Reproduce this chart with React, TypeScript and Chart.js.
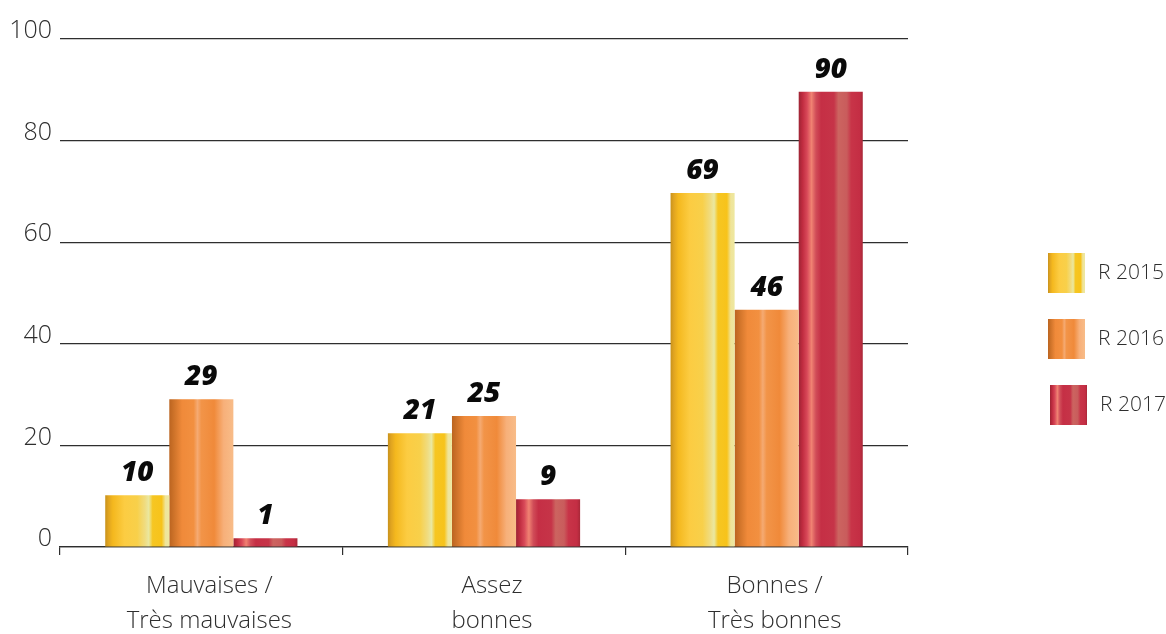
import React, { useEffect, useRef } from "react";
import { Chart, registerables } from "chart.js";

Chart.register(...registerables);

const categories = [["Mauvaises /", "Très mauvaises"], ["Assez", "bonnes"], ["Bonnes /", "Très bonnes"]];
const seriesNames = ["R 2015", "R 2016", "R 2017"];
const values2015 = [10.2, 22.4, 69.7];
const values2016 = [29.1, 25.8, 46.7];
const values2017 = [1.7, 9.4, 89.6];
const printed2015 = ["10", "21", "69"];
const printed2016 = ["29", "25", "46"];
const printed2017 = ["1", "9", "90"];
const yTicks = [0, 20, 40, 60, 80, 100];

type Stop = [number, string];
const yellowStops: Stop[] = [
  [0, "#c8921c"], [0.05, "#e0a420"], [0.12, "#f4b81e"], [0.3, "#fccc42"], [0.5, "#f8d04a"],
  [0.62, "#f0dc80"], [0.68, "#eae8a0"], [0.74, "#f6c622"], [0.88, "#f7c31a"], [0.94, "#efe49a"], [1, "#eee8a0"],
];
const orangeStops: Stop[] = [
  [0, "#bb6420"], [0.08, "#d0742a"], [0.2, "#f08a3a"], [0.38, "#f29040"], [0.44, "#f5aa72"],
  [0.5, "#f29448"], [0.7, "#f08a3a"], [0.85, "#f7b07a"], [1, "#f8bc88"],
];
const redStops: Stop[] = [
  [0, "#9e2434"], [0.06, "#c02c40"], [0.13, "#d84858"], [0.2, "#f08272"], [0.27, "#d04c58"],
  [0.35, "#c52f45"], [0.55, "#c63448"], [0.62, "#cc6460"], [0.75, "#c95c5c"], [0.82, "#c83448"],
  [0.95, "#c42e44"], [1, "#a82838"],
];
const stopsList = [yellowStops, orangeStops, redStops];
const printedList = [printed2015, printed2016, printed2017];

const TEXT = "#2e2e2e";
const LIGHT_FONT = "'Open Sans', 'Lato', sans-serif";

function makeGradient(ctx: CanvasRenderingContext2D, x0: number, x1: number, stops: Stop[]) {
  const g = ctx.createLinearGradient(x0, 0, x1, 0);
  stops.forEach(([o, c]) => g.addColorStop(o, c));
  return g;
}

const gradientPlugin = {
  id: "barGradients",
  beforeDatasetsDraw(chart: any) {
    const ctx = chart.ctx;
    chart.data.datasets.forEach((_: any, di: number) => {
      const meta = chart.getDatasetMeta(di);
      meta.data.forEach((el: any) => {
        const { x, width } = el.getProps(["x", "width"], true);
        const g = makeGradient(ctx, x - width / 2, x + width / 2, stopsList[di]);
        el.options = Object.assign({}, el.options, { backgroundColor: g });
      });
    });
  },
};

const valueLabelPlugin = {
  id: "valueLabels",
  afterDatasetsDraw(chart: any) {
    const ctx = chart.ctx;
    ctx.save();
    ctx.fillStyle = "#0a0a0a";
    ctx.font = "italic 800 28px 'Open Sans', 'Noto Sans', sans-serif";
    ctx.textAlign = "center";
    ctx.textBaseline = "middle";
    chart.data.datasets.forEach((_: any, di: number) => {
      const meta = chart.getDatasetMeta(di);
      meta.data.forEach((el: any, i: number) => {
        const { x, y } = el.getProps(["x", "y"], true);
        ctx.fillText(printedList[di][i], x, y - 22);
      });
    });
    ctx.restore();
  },
};

const legendPlugin = {
  id: "customLegend",
  afterDraw(chart: any) {
    const ctx = chart.ctx;
    const area = chart.chartArea;
    const mid = (area.top + area.bottom) / 2;
    ctx.save();
    seriesNames.forEach((name, i) => {
      const cy = mid - 20 + i * 66;
      const bx = area.right + 140 + (i === 2 ? 2 : 0);
      const bw = 37;
      const bh = 40;
      ctx.fillStyle = makeGradient(ctx, bx, bx + bw, stopsList[i]);
      ctx.fillRect(bx, cy - bh / 2, bw, bh);
      ctx.fillStyle = TEXT;
      ctx.font = `300 21px ${LIGHT_FONT}`;
      ctx.textAlign = "left";
      ctx.textBaseline = "middle";
      ctx.fillText(name, bx + bw + 13, cy);
    });
    ctx.restore();
  },
};

export default function App() {
  const canvasRef = useRef<HTMLCanvasElement | null>(null);

  useEffect(() => {
    document.body.style.margin = "0";
    const canvas = canvasRef.current;
    if (!canvas) return;
    const chart = new Chart(canvas, {
      type: "bar",
      data: {
        labels: categories,
        datasets: [
          { label: seriesNames[0], data: values2015, backgroundColor: "#f7c31a" },
          { label: seriesNames[1], data: values2016, backgroundColor: "#f08a3a" },
          { label: seriesNames[2], data: values2017, backgroundColor: "#c52f45" },
        ],
      },
      options: {
        animation: false,
        responsive: false,
        maintainAspectRatio: false,
        layout: { padding: { top: 39, right: 258, left: 0, bottom: 0 } },
        datasets: { bar: { categoryPercentage: 0.68, barPercentage: 1, borderWidth: 0 } },
        plugins: {
          legend: { display: false },
          tooltip: { enabled: false },
        },
        scales: {
          x: {
            grid: {
              display: true,
              offset: true,
              drawOnChartArea: false,
              drawTicks: true,
              tickLength: 8,
              color: TEXT,
              lineWidth: 1.2,
            },
            border: { display: true, color: TEXT, width: 1.2 },
            ticks: {
              color: TEXT,
              font: { family: LIGHT_FONT, size: 24, weight: "300", lineHeight: 1.45 },
              padding: 14,
              labelOffset: 8,
              maxRotation: 0,
              autoSkip: false,
            },
            afterFit: (scale: any) => {
              scale.height = 87;
            },
          },
          y: {
            min: 0,
            max: 100,
            afterBuildTicks: (scale: any) => {
              scale.ticks = yTicks.map((v) => ({ value: v }));
            },
            grid: { color: TEXT, lineWidth: 1.2, drawTicks: false },
            border: { display: false },
            ticks: {
              color: TEXT,
              font: { family: LIGHT_FONT, size: 25, weight: "300" },
              padding: 8,
              labelOffset: -8,
            },
            afterFit: (scale: any) => {
              scale.width = 60;
            },
          },
        },
      },
      plugins: [gradientPlugin, valueLabelPlugin, legendPlugin],
    } as any);
    return () => chart.destroy();
  }, []);

  return (
    <div style={{ width: 1166, height: 634 }}>
      <canvas ref={canvasRef} width={1166} height={634} style={{ display: "block" }} />
    </div>
  );
}
